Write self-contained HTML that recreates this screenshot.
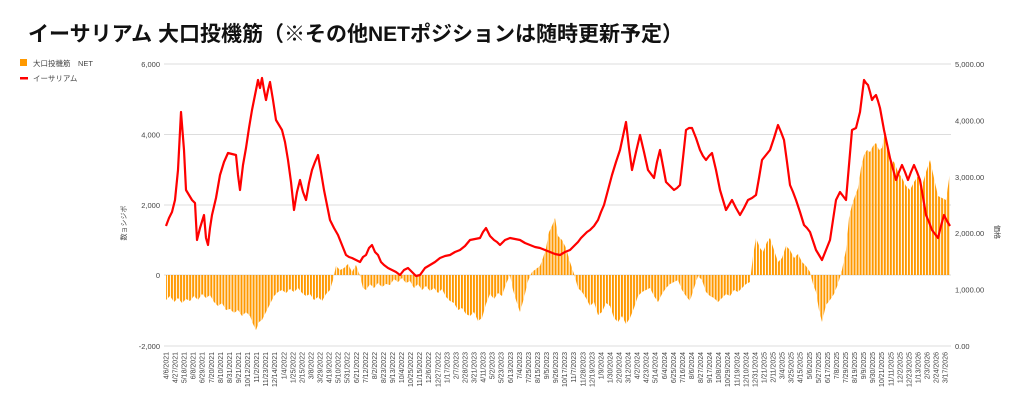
<!DOCTYPE html>
<html><head><meta charset="utf-8"><style>
body{margin:0;background:#fff;width:1024px;height:409px;overflow:hidden}
svg{position:absolute;left:0;top:0}
svg text{font-family:"Liberation Sans","Noto Sans CJK JP",sans-serif}
</style></head><body>
<svg width="1024" height="409" xmlns="http://www.w3.org/2000/svg">
<defs><pattern id="p" x="165" y="0" width="3.02" height="20" patternUnits="userSpaceOnUse"><rect x="0" y="0" width="2" height="20" fill="#ff9900"/></pattern></defs>
<text x="28" y="41" font-size="21" font-weight="bold" fill="#111">イーサリアム 大口投機筋（※その他NETポジションは随時更新予定）</text>
<rect x="20" y="59" width="7" height="7" fill="#ff9900"/><text x="33" y="66" font-size="7.5" fill="#444">大口投機筋　NET</text>
<rect x="20" y="77" width="8" height="2.5" fill="#f00"/><text x="33" y="81" font-size="7.5" fill="#444">イーサリアム</text>
<text transform="translate(126,223) rotate(-90)" font-size="7" fill="#444" text-anchor="middle">数ョシジボ</text>
<text transform="translate(995,232) rotate(90)" font-size="7" fill="#444" text-anchor="middle">価格</text>
<g stroke="#ddd" stroke-width="1">
<line x1="164" x2="951" y1="64" y2="64"/><line x1="164" x2="951" y1="134.5" y2="134.5"/><line x1="164" x2="951" y1="205" y2="205"/><line x1="164" x2="951" y1="275" y2="275"/><line x1="164" x2="951" y1="346" y2="346"/>
</g>
<g font-size="7.5" fill="#444" text-anchor="end">
<text x="160" y="67">6,000</text><text x="160" y="137.5">4,000</text><text x="160" y="208">2,000</text><text x="160" y="278">0</text><text x="160" y="349">-2,000</text>
</g>
<g font-size="7.5" fill="#444">
<text x="955" y="349">0.00</text><text x="955" y="292.6">1,000.00</text><text x="955" y="236.2">2,000.00</text><text x="955" y="179.8">3,000.00</text><text x="955" y="123.4">4,000.00</text><text x="955" y="67">5,000.00</text>
</g>
<polygon fill="url(#p)" points="166,300 170,296 174,302 178,298 182,303 186,299 190,301 194,296 198,300 202,294 206,298 210,295 214,302 218,306 222,303 226,310 230,309 234,313 238,310 242,316 246,312 250,316 253,324 256,330 259,322 262,320 266,312 270,304 274,296 278,292 282,290 286,293 290,289 294,292 298,288 302,293 306,296 310,294 314,300 318,297 322,301 326,294 330,290 333,280 336,266 340,270 344,268 348,264 352,272 356,265 360,276 363,288 366,290 370,284 374,288 378,283 382,287 386,284 390,285 394,279 398,282 402,278 406,283 410,281 414,288 418,284 422,290 426,286 430,291 434,288 438,293 442,289 446,297 450,301 454,303 458,310 462,308 466,314 470,316 474,312 478,321 482,318 486,304 490,294 494,299 498,293 502,296 506,284 510,275 513,290 516,300 520,312 524,298 528,281 532,272 536,269 540,266 543,258 546,248 549,232 552,226 555,218 558,236 562,240 566,248 570,262 574,274 578,288 582,292 586,298 590,306 594,302 598,315 602,312 606,303 610,306 614,318 618,322 622,316 626,324 630,318 634,308 638,296 642,292 646,290 650,288 654,296 658,302 662,294 666,288 670,284 674,282 678,280 682,290 686,296 690,301 694,288 698,276 702,280 706,292 710,296 714,298 718,302 722,298 726,294 730,296 734,290 738,292 742,288 746,284 750,282 753,256 756,238 760,248 763,252 767,242 770,238 774,250 778,262 782,258 786,246 790,250 794,258 798,254 802,262 806,266 810,272 813,284 816,292 819,310 822,322 826,305 830,300 834,294 838,284 842,270 846,250 849,218 852,205 855,196 858,188 861,168 864,155 867,150 870,152 873,146 876,143 879,150 882,148 885,132 888,145 891,160 894,162 898,172 902,178 906,186 910,190 914,182 918,176 922,186 926,172 930,160 934,178 938,196 942,198 946,200 950,172 950,275 166,275"/>
<polyline fill="none" stroke="#f00" stroke-width="2.2" stroke-linejoin="round" points="166,226 169,218 172,212 175,200 178,170 181,112 184,150 186,190 189,195 192,200 195,203 197,240 200,228 204,215 206,238 208,245 210,228 212,215 216,198 220,175 224,162 228,153 232,154 236,155 238,175 240,190 243,165 246,148 249,128 252,110 255,95 258,80 260,88 262,78 264,90 266,100 268,90 270,82 273,100 276,120 279,125 282,130 285,142 288,160 291,182 294,210 297,192 300,180 303,192 306,200 309,183 312,170 315,162 318,155 321,172 324,190 327,205 330,220 334,228 338,235 342,245 346,255 349,257 352,258 356,260 360,262 363,257 366,255 369,248 372,245 375,252 378,255 381,262 384,265 388,268 392,270 396,272 400,275 404,270 408,268 412,272 416,276 420,275 425,268 430,265 435,262 440,258 445,256 450,255 455,252 460,250 465,246 470,240 475,239 480,238 483,232 486,228 490,236 494,240 497,242 500,245 505,240 510,238 515,239 520,240 525,243 530,245 535,247 540,248 545,250 550,252 555,254 560,255 565,252 570,250 574,246 578,242 581,238 584,235 587,232 590,230 594,226 598,220 601,212 604,205 608,190 612,175 616,162 620,150 623,136 626,122 629,148 632,170 636,152 640,135 644,152 648,170 651,174 654,178 657,162 660,150 663,166 666,182 670,186 674,190 677,188 680,185 683,158 686,130 689,128 692,128 696,138 700,150 703,156 706,160 709,156 712,153 716,170 720,190 723,200 726,210 729,205 732,200 736,208 740,215 744,208 748,200 752,198 756,195 759,178 762,160 766,155 770,150 774,138 778,125 781,132 784,140 787,162 790,185 793,192 796,200 800,212 804,225 807,228 810,232 813,241 816,250 819,255 822,260 826,250 830,240 833,220 836,200 838,196 840,192 843,196 846,200 849,165 852,130 854,129 856,128 858,120 860,112 862,96 864,80 866,83 868,85 870,92 872,100 874,97 876,95 878,101 880,108 882,119 884,130 887,144 890,158 893,169 896,180 899,172 902,165 905,172 908,180 911,172 914,165 917,172 920,180 923,197 926,215 929,222 932,230 935,234 938,238 941,226 944,215 947,221 950,226"/>
<g font-size="7" fill="#444" text-anchor="end">
<text transform="rotate(-90 168.5 352)" x="168.5" y="352">4/6/2021</text>
<text transform="rotate(-90 177.6 352)" x="177.6" y="352">4/27/2021</text>
<text transform="rotate(-90 186.6 352)" x="186.6" y="352">5/18/2021</text>
<text transform="rotate(-90 195.7 352)" x="195.7" y="352">6/8/2021</text>
<text transform="rotate(-90 204.7 352)" x="204.7" y="352">6/29/2021</text>
<text transform="rotate(-90 213.8 352)" x="213.8" y="352">7/20/2021</text>
<text transform="rotate(-90 222.9 352)" x="222.9" y="352">8/10/2021</text>
<text transform="rotate(-90 231.9 352)" x="231.9" y="352">8/31/2021</text>
<text transform="rotate(-90 241.0 352)" x="241.0" y="352">9/21/2021</text>
<text transform="rotate(-90 250.0 352)" x="250.0" y="352">10/12/2021</text>
<text transform="rotate(-90 259.1 352)" x="259.1" y="352">11/2/2021</text>
<text transform="rotate(-90 268.2 352)" x="268.2" y="352">11/23/2021</text>
<text transform="rotate(-90 277.2 352)" x="277.2" y="352">12/14/2021</text>
<text transform="rotate(-90 286.3 352)" x="286.3" y="352">1/4/2022</text>
<text transform="rotate(-90 295.3 352)" x="295.3" y="352">1/25/2022</text>
<text transform="rotate(-90 304.4 352)" x="304.4" y="352">2/15/2022</text>
<text transform="rotate(-90 313.5 352)" x="313.5" y="352">3/8/2022</text>
<text transform="rotate(-90 322.5 352)" x="322.5" y="352">3/29/2022</text>
<text transform="rotate(-90 331.6 352)" x="331.6" y="352">4/19/2022</text>
<text transform="rotate(-90 340.6 352)" x="340.6" y="352">5/10/2022</text>
<text transform="rotate(-90 349.7 352)" x="349.7" y="352">5/31/2022</text>
<text transform="rotate(-90 358.8 352)" x="358.8" y="352">6/21/2022</text>
<text transform="rotate(-90 367.8 352)" x="367.8" y="352">7/12/2022</text>
<text transform="rotate(-90 376.9 352)" x="376.9" y="352">8/2/2022</text>
<text transform="rotate(-90 385.9 352)" x="385.9" y="352">8/23/2022</text>
<text transform="rotate(-90 395.0 352)" x="395.0" y="352">9/13/2022</text>
<text transform="rotate(-90 404.1 352)" x="404.1" y="352">10/4/2022</text>
<text transform="rotate(-90 413.1 352)" x="413.1" y="352">10/25/2022</text>
<text transform="rotate(-90 422.2 352)" x="422.2" y="352">11/15/2022</text>
<text transform="rotate(-90 431.2 352)" x="431.2" y="352">12/6/2022</text>
<text transform="rotate(-90 440.3 352)" x="440.3" y="352">12/27/2022</text>
<text transform="rotate(-90 449.4 352)" x="449.4" y="352">1/17/2023</text>
<text transform="rotate(-90 458.4 352)" x="458.4" y="352">2/7/2023</text>
<text transform="rotate(-90 467.5 352)" x="467.5" y="352">2/28/2023</text>
<text transform="rotate(-90 476.5 352)" x="476.5" y="352">3/21/2023</text>
<text transform="rotate(-90 485.6 352)" x="485.6" y="352">4/11/2023</text>
<text transform="rotate(-90 494.7 352)" x="494.7" y="352">5/2/2023</text>
<text transform="rotate(-90 503.7 352)" x="503.7" y="352">5/23/2023</text>
<text transform="rotate(-90 512.8 352)" x="512.8" y="352">6/13/2023</text>
<text transform="rotate(-90 521.8 352)" x="521.8" y="352">7/4/2023</text>
<text transform="rotate(-90 530.9 352)" x="530.9" y="352">7/25/2023</text>
<text transform="rotate(-90 540.0 352)" x="540.0" y="352">8/15/2023</text>
<text transform="rotate(-90 549.0 352)" x="549.0" y="352">9/5/2023</text>
<text transform="rotate(-90 558.1 352)" x="558.1" y="352">9/26/2023</text>
<text transform="rotate(-90 567.1 352)" x="567.1" y="352">10/17/2023</text>
<text transform="rotate(-90 576.2 352)" x="576.2" y="352">11/7/2023</text>
<text transform="rotate(-90 585.3 352)" x="585.3" y="352">11/28/2023</text>
<text transform="rotate(-90 594.3 352)" x="594.3" y="352">12/19/2023</text>
<text transform="rotate(-90 603.4 352)" x="603.4" y="352">1/9/2024</text>
<text transform="rotate(-90 612.4 352)" x="612.4" y="352">1/30/2024</text>
<text transform="rotate(-90 621.5 352)" x="621.5" y="352">2/20/2024</text>
<text transform="rotate(-90 630.6 352)" x="630.6" y="352">3/12/2024</text>
<text transform="rotate(-90 639.6 352)" x="639.6" y="352">4/2/2024</text>
<text transform="rotate(-90 648.7 352)" x="648.7" y="352">4/23/2024</text>
<text transform="rotate(-90 657.7 352)" x="657.7" y="352">5/14/2024</text>
<text transform="rotate(-90 666.8 352)" x="666.8" y="352">6/4/2024</text>
<text transform="rotate(-90 675.9 352)" x="675.9" y="352">6/25/2024</text>
<text transform="rotate(-90 684.9 352)" x="684.9" y="352">7/16/2024</text>
<text transform="rotate(-90 694.0 352)" x="694.0" y="352">8/6/2024</text>
<text transform="rotate(-90 703.0 352)" x="703.0" y="352">8/27/2024</text>
<text transform="rotate(-90 712.1 352)" x="712.1" y="352">9/17/2024</text>
<text transform="rotate(-90 721.2 352)" x="721.2" y="352">10/8/2024</text>
<text transform="rotate(-90 730.2 352)" x="730.2" y="352">10/29/2024</text>
<text transform="rotate(-90 739.3 352)" x="739.3" y="352">11/19/2024</text>
<text transform="rotate(-90 748.3 352)" x="748.3" y="352">12/10/2024</text>
<text transform="rotate(-90 757.4 352)" x="757.4" y="352">12/31/2024</text>
<text transform="rotate(-90 766.5 352)" x="766.5" y="352">1/21/2025</text>
<text transform="rotate(-90 775.5 352)" x="775.5" y="352">2/11/2025</text>
<text transform="rotate(-90 784.6 352)" x="784.6" y="352">3/4/2025</text>
<text transform="rotate(-90 793.6 352)" x="793.6" y="352">3/25/2025</text>
<text transform="rotate(-90 802.7 352)" x="802.7" y="352">4/15/2025</text>
<text transform="rotate(-90 811.8 352)" x="811.8" y="352">5/6/2025</text>
<text transform="rotate(-90 820.8 352)" x="820.8" y="352">5/27/2025</text>
<text transform="rotate(-90 829.9 352)" x="829.9" y="352">6/17/2025</text>
<text transform="rotate(-90 838.9 352)" x="838.9" y="352">7/8/2025</text>
<text transform="rotate(-90 848.0 352)" x="848.0" y="352">7/29/2025</text>
<text transform="rotate(-90 857.1 352)" x="857.1" y="352">8/19/2025</text>
<text transform="rotate(-90 866.1 352)" x="866.1" y="352">9/9/2025</text>
<text transform="rotate(-90 875.2 352)" x="875.2" y="352">9/30/2025</text>
<text transform="rotate(-90 884.2 352)" x="884.2" y="352">10/21/2025</text>
<text transform="rotate(-90 893.3 352)" x="893.3" y="352">11/11/2025</text>
<text transform="rotate(-90 902.4 352)" x="902.4" y="352">12/2/2025</text>
<text transform="rotate(-90 911.4 352)" x="911.4" y="352">12/23/2025</text>
<text transform="rotate(-90 920.5 352)" x="920.5" y="352">1/13/2026</text>
<text transform="rotate(-90 929.5 352)" x="929.5" y="352">2/3/2026</text>
<text transform="rotate(-90 938.6 352)" x="938.6" y="352">2/24/2026</text>
<text transform="rotate(-90 947.7 352)" x="947.7" y="352">3/17/2026</text>
</g>
</svg>
</body></html>
